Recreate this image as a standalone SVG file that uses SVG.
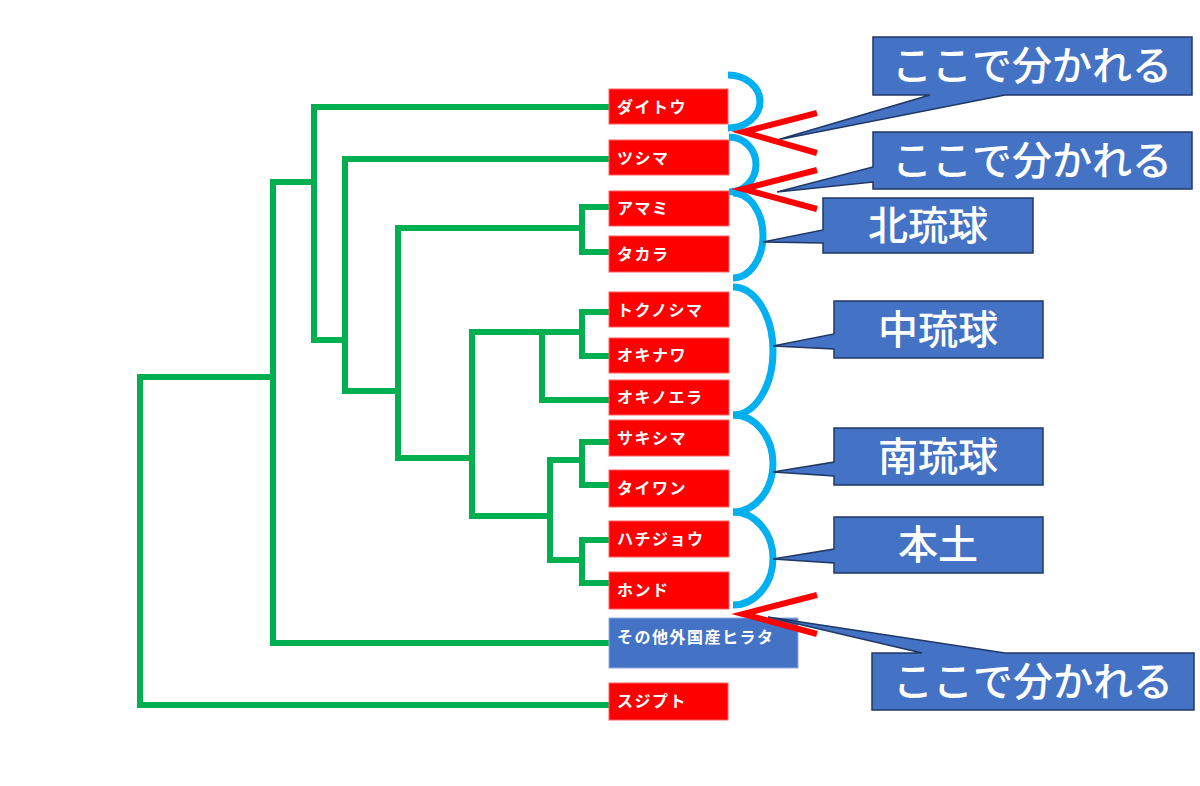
<svg xmlns="http://www.w3.org/2000/svg" width="1200" height="786" viewBox="0 0 1200 786">
<style>
.tree{fill:none;stroke:#00B050;stroke-width:6;stroke-linejoin:miter;stroke-linecap:square}
.box{fill:#FF0000;stroke:#FF6060;stroke-width:1}
.obox{fill:#4472C4;stroke:#8FAADC;stroke-width:1}
.lbl{font-family:"Noto Sans CJK JP","Noto Sans",sans-serif;font-weight:bold;font-size:16px;letter-spacing:1.5px;fill:#fff}
.br{fill:none;stroke:#00B0F0;stroke-width:7}
.mark{fill:none;stroke:#FF0000;stroke-width:6}
.co{fill:#4472C4;stroke:#203864;stroke-width:1.5}
.ct{font-family:"Noto Sans CJK JP","Noto Sans",sans-serif;font-weight:500;font-size:40px;fill:#fff;text-anchor:middle}
</style>
<rect width="1200" height="786" fill="#fff"/>
<g id="connectors" class="tree">
<path d="M610,705 H140 V377 H273"/>
<path d="M610,643 H273 V182 H314"/>
<path d="M610,107 H314 V340 H345"/>
<path d="M610,159 H345 V391 H398"/>
<path d="M582,228 H398 V458 H472"/>
<path d="M610,207 H582 V252 H610"/>
<path d="M542,332 H472 V516 H550"/>
<path d="M582,332 H542 V400 H610"/>
<path d="M610,312 H582 V356 H610"/>
<path d="M582,460 H550 V560 H582"/>
<path d="M610,442 H582 V485 H610"/>
<path d="M610,540 H582 V583 H610"/>
</g>
<g id="n-daitou"><rect class="box" x="609" y="89" width="119" height="35"/><text class="lbl" x="617" y="113">ダイトウ</text></g>
<g id="n-tsushima"><rect class="box" x="609" y="140" width="120" height="35"/><text class="lbl" x="617" y="164">ツシマ</text></g>
<g id="n-amami"><rect class="box" x="609" y="191" width="120" height="35"/><text class="lbl" x="617" y="214">アマミ</text></g>
<g id="n-takara"><rect class="box" x="609" y="236" width="120" height="36"/><text class="lbl" x="617" y="260">タカラ</text></g>
<g id="n-tokunoshima"><rect class="box" x="609" y="292" width="120" height="35"/><text class="lbl" x="617" y="316">トクノシマ</text></g>
<g id="n-okinawa"><rect class="box" x="609" y="338" width="120" height="35"/><text class="lbl" x="617" y="361">オキナワ</text></g>
<g id="n-okinoerabu"><rect class="box" x="609" y="380" width="120" height="35"/><text class="lbl" x="617" y="403">オキノエラ</text></g>
<g id="n-sakishima"><rect class="box" x="609" y="420" width="120" height="36"/><text class="lbl" x="617" y="444">サキシマ</text></g>
<g id="n-taiwan"><rect class="box" x="609" y="470" width="120" height="37"/><text class="lbl" x="617" y="494">タイワン</text></g>
<g id="n-hachijou"><rect class="box" x="609" y="521" width="120" height="36"/><text class="lbl" x="617" y="545">ハチジョウ</text></g>
<g id="n-hondo"><rect class="box" x="609" y="572" width="120" height="37"/><text class="lbl" x="617" y="596">ホンド</text></g>
<g id="n-other"><rect class="obox" x="609" y="618" width="189" height="50"/><text class="lbl" x="617" y="643">その他外国産ヒラタ</text></g>
<g id="n-sujiputo"><rect class="box" x="609" y="683" width="119" height="37"/><text class="lbl" x="617" y="707">スジプト</text></g>
<g id="brackets" class="br">
<path d="M728,75 A32,26.5 0 0 1 728,128"/>
<path d="M729,137 A27,27.5 0 0 1 729,192"/>
<path d="M733,193 A30,42.5 0 0 1 733,278"/>
<path d="M733,287 A40,64 0 0 1 733,415"/>
<path d="M733,415 A40,48.5 0 0 1 733,512"/>
<path d="M733,512 A40,46.5 0 0 1 733,605"/>
</g>
<g id="callout-1"><path class="co" d="M873,37 H1192 V95 H1005 L777,140 L930,95 H873 Z"/><text class="ct" x="1032" y="80">ここで分かれる</text></g>
<g id="callout-2"><path class="co" d="M873,132 H1192 V189 H873 V182 L777,192 L873,167 Z"/><text class="ct" x="1032" y="175">ここで分かれる</text></g>
<g id="callout-north"><path class="co" d="M823,198 H1033 V253 H823 V243 L763,242 L823,230 Z"/><text class="ct" x="928" y="240">北琉球</text></g>
<g id="callout-central"><path class="co" d="M834,301 H1043 V358 H834 V349 L773,346 L834,334 Z"/><text class="ct" x="938" y="344">中琉球</text></g>
<g id="callout-south"><path class="co" d="M834,428 H1043 V485 H834 V476 L773,472 L834,462 Z"/><text class="ct" x="938" y="471">南琉球</text></g>
<g id="callout-hondo"><path class="co" d="M834,517 H1043 V573 H834 V563 L773,559 L834,549 Z"/><text class="ct" x="938" y="559">本土</text></g>
<g id="callout-3"><path class="co" d="M872,653 H922 L768,617 L1005,653 H1194 V710 H872 Z"/><text class="ct" x="1033" y="696">ここで分かれる</text></g>
<g id="marks" class="mark">
<path d="M817,113 L743,132 L817,153"/>
<path d="M817,170 L743,189 L817,209"/>
<path d="M817,595 L743,614 L817,634"/>
</g>
</svg>
